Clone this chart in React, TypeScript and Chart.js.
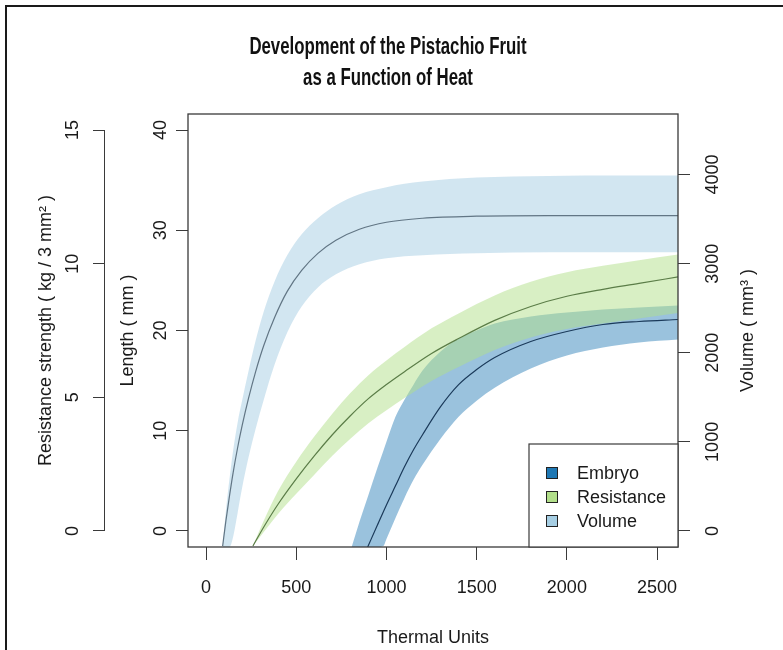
import React, { useEffect, useRef } from 'react';
import { Chart, registerables } from 'chart.js';

Chart.register(...registerables);

// ---------- text ----------
const TITLE = ['Development of the Pistachio Fruit', 'as a Function of Heat'];
const X_TITLE = 'Thermal Units';
const LENGTH_TITLE = 'Length ( mm )';
const RESIST_TITLE = 'Resistance strength ( kg / 3 mm\u00B2 )';
const VOLUME_TITLE = 'Volume ( mm\u00B3 )';

// ---------- axes ----------
const X_TICKS = [0, 500, 1000, 1500, 2000, 2500];
const LENGTH_TICKS = [0, 10, 20, 30, 40];
const RESIST_TICKS = [0, 5, 10, 15];
const VOLUME_TICKS = [0, 1000, 2000, 3000, 4000];

const X_RANGE = [-100, 2616];
const LENGTH_RANGE = [-1.6, 41.6];
const RESIST_RANGE = [-0.6, 15.6];
const VOLUME_RANGE = [-180, 4680];

// ---------- legend ----------
const LEGEND_LABELS = ['Embryo', 'Resistance', 'Volume'];
const LEGEND_COLORS = ['#1f78b4', '#b2df8a', '#a6cee3'];

// ---------- Volume (mm3, right axis) ----------
const VOL_X = [92, 110, 130, 150, 175, 200, 235, 275, 320, 380, 450, 530, 620, 720, 850, 1000, 1200, 1500, 1900, 2300, 2620];
const VOL_MEAN = [-170, 113, 394, 653, 934, 1181, 1485, 1789, 2081, 2396, 2689, 2925, 3116, 3263, 3386, 3465, 3510, 3533, 3540, 3540, 3540];
const VOL_UPPER = [-170, 225, 585, 900, 1215, 1463, 1789, 2138, 2464, 2801, 3094, 3330, 3510, 3656, 3780, 3859, 3921, 3966, 3985, 3990, 3990];
const VOL_LOWER = [-180, -180, -180, -68, 203, 484, 821, 1148, 1474, 1868, 2228, 2520, 2734, 2880, 2993, 3060, 3094, 3116, 3128, 3128, 3128];

// ---------- Resistance (kg / 3 mm2, far-left axis) ----------
const RES_X = [260, 320, 400, 500, 600, 700, 800, 900, 1000, 1100, 1250, 1400, 1600, 1800, 2000, 2200, 2400, 2620];
const RES_MEAN = [-0.56, 0.15, 1.01, 1.95, 2.81, 3.6, 4.31, 4.95, 5.48, 5.96, 6.64, 7.2, 7.88, 8.4, 8.78, 9.04, 9.26, 9.51];
const RES_UPPER = [-0.56, 0.38, 1.5, 2.59, 3.53, 4.39, 5.16, 5.83, 6.38, 6.88, 7.58, 8.14, 8.81, 9.32, 9.68, 9.92, 10.13, 10.35];
const RES_LOWER = [-0.56, -0.04, 0.64, 1.39, 2.1, 2.81, 3.45, 4.03, 4.52, 4.97, 5.61, 6.13, 6.77, 7.24, 7.56, 7.76, 7.95, 8.16];

// ---------- Embryo length (mm, left axis) ----------
const EMB_X = [896, 950, 1000, 1050, 1100, 1150, 1200, 1300, 1400, 1500, 1600, 1800, 2000, 2200, 2400, 2620];
const EMB_MEAN = [-1.6, 0.6, 2.6, 4.5, 6.4, 8.1, 9.6, 12.4, 14.6, 16.1, 17.3, 18.9, 19.9, 20.6, 20.9, 21.1];
const EMB_BAND_X = [807, 850, 900, 950, 983, 1000, 1050, 1100, 1150, 1200, 1300, 1400, 1500, 1600, 1800, 2000, 2200, 2400, 2620];
const EMB_UPPER = [-1.6, 0.9, 3.6, 6.3, 8.0, 8.9, 11.4, 13.1, 14.6, 16.0, 17.9, 19.2, 20.0, 20.7, 21.4, 21.8, 22.1, 22.3, 22.5];
const EMB_LOWER = [-1.6, -1.6, -1.6, -1.6, -1.5, -0.8, 1.3, 3.3, 5.1, 6.6, 9.2, 11.4, 13.0, 14.3, 16.2, 17.5, 18.3, 18.8, 19.1];

// ---------- styles ----------
const SANS = "'Liberation Sans', Arial, Helvetica, sans-serif";
const TEXT = '#1a1a1a';
const AXIS = '#3a3a3a';
const VOL_BAND = 'rgba(166,206,227,0.5)';
const RES_BAND = 'rgba(178,223,138,0.5)';
const EMB_BAND = 'rgba(31,120,180,0.45)';
const VOL_LINE = '#627685';
const RES_LINE = '#5b7d48';
const EMB_LINE = '#1b3a5a';

const pts = (xs: number[], ys: number[]) => xs.map((x, i) => ({ x, y: ys[i] }));
const tickFont = { family: SANS, size: 18 };

function line(label: string, xs: number[], ys: number[], axis: string, extra: any) {
  return {
    label,
    data: pts(xs, ys),
    yAxisID: axis,
    pointRadius: 0,
    pointHoverRadius: 0,
    cubicInterpolationMode: 'monotone',
    clip: 0,
    ...extra,
  };
}

const bandEdge = (color: string, order: number, fill: any) => ({
  borderColor: 'rgba(0,0,0,0)',
  borderWidth: 0,
  backgroundColor: color,
  fill,
  order,
});

const decorPlugin = {
  id: 'decor',
  afterDraw(chart: any) {
    const { ctx, chartArea: a, scales } = chart;
    ctx.save();

    // main title: bold, condensed
    ctx.fillStyle = '#111';
    ctx.font = `bold 24px ${SANS}`;
    ctx.textAlign = 'center';
    ctx.textBaseline = 'middle';
    TITLE.forEach((t, i) => {
      ctx.save();
      ctx.translate(388, 47 + i * 31);
      ctx.scale(0.7, 1);
      ctx.fillText(t, 0, 0);
      ctx.restore();
    });

    // plot box
    ctx.strokeStyle = AXIS;
    ctx.lineWidth = 1.3;
    ctx.strokeRect(a.left, a.top, a.right - a.left, a.bottom - a.top);

    // resistance axis spine (0 .. 15 only)
    const r = scales.yRes;
    const sx = r.right - 0.5;
    ctx.lineWidth = 1;
    ctx.beginPath();
    ctx.moveTo(sx, r.getPixelForValue(RESIST_TICKS[0]));
    ctx.lineTo(sx, r.getPixelForValue(RESIST_TICKS[RESIST_TICKS.length - 1]));
    ctx.stroke();

    // right axis title (reads bottom to top)
    ctx.save();
    ctx.translate(748, (a.top + a.bottom) / 2);
    ctx.rotate(-Math.PI / 2);
    ctx.fillStyle = TEXT;
    ctx.font = `18px ${SANS}`;
    ctx.textAlign = 'center';
    ctx.textBaseline = 'middle';
    ctx.fillText(VOLUME_TITLE, 0, 0);
    ctx.restore();

    // legend
    const w = 149, h = 103;
    const lx = a.right - w, ly = a.bottom - h;
    ctx.fillStyle = '#ffffff';
    ctx.fillRect(lx, ly, w, h);
    ctx.strokeStyle = AXIS;
    ctx.lineWidth = 1.2;
    ctx.strokeRect(lx, ly, w, h);
    ctx.font = `18px ${SANS}`;
    ctx.textAlign = 'left';
    ctx.textBaseline = 'middle';
    LEGEND_LABELS.forEach((lab, i) => {
      const cy = ly + 29 + i * 24;
      ctx.fillStyle = LEGEND_COLORS[i];
      ctx.fillRect(lx + 17, cy - 6, 12, 12);
      ctx.strokeStyle = '#222';
      ctx.lineWidth = 1;
      ctx.strokeRect(lx + 17.5, cy - 5.5, 11, 11);
      ctx.fillStyle = TEXT;
      ctx.fillText(lab, lx + 48, cy + 1);
    });
    ctx.restore();
  },
};

const tickSet = (arr: number[]) => (s: any) => {
  s.ticks = arr.map((v) => ({ value: v }));
};

export default function App() {
  const ref = useRef<HTMLCanvasElement>(null);

  useEffect(() => {
    const canvas = ref.current;
    if (!canvas) return;
    const chart = new Chart(canvas, {
      type: 'line',
      data: {
        datasets: [
          line('Volume upper', VOL_X, VOL_UPPER, 'yVol', bandEdge(VOL_BAND, 5, '+1')),
          line('Volume lower', VOL_X, VOL_LOWER, 'yVol', bandEdge(VOL_BAND, 5, false)),
          line('Embryo upper', EMB_BAND_X, EMB_UPPER, 'yLen', bandEdge(EMB_BAND, 4, '+1')),
          line('Embryo lower', EMB_BAND_X, EMB_LOWER, 'yLen', bandEdge(EMB_BAND, 4, false)),
          line('Resistance upper', RES_X, RES_UPPER, 'yRes', bandEdge(RES_BAND, 3, '+1')),
          line('Resistance lower', RES_X, RES_LOWER, 'yRes', bandEdge(RES_BAND, 3, false)),
          line('Volume', VOL_X, VOL_MEAN, 'yVol', { borderColor: VOL_LINE, borderWidth: 1.2, fill: false, order: 0 }),
          line('Resistance', RES_X, RES_MEAN, 'yRes', { borderColor: RES_LINE, borderWidth: 1.2, fill: false, order: 0 }),
          line('Embryo', EMB_X, EMB_MEAN, 'yLen', { borderColor: EMB_LINE, borderWidth: 1.2, fill: false, order: 0 }),
        ],
      },
      options: {
        responsive: false,
        animation: false,
        devicePixelRatio: 1,
        events: [],
        layout: { padding: { top: 114, left: 0, right: 0, bottom: 0 } },
        plugins: {
          legend: { display: false },
          tooltip: { enabled: false },
          title: { display: false },
        },
        scales: {
          x: {
            type: 'linear',
            position: 'bottom',
            min: X_RANGE[0],
            max: X_RANGE[1],
            afterBuildTicks: tickSet(X_TICKS),
            afterFit: (s: any) => { s.height = 103; },
            grid: { drawOnChartArea: false, drawTicks: true, tickLength: 13, color: AXIS, lineWidth: 1 },
            border: { display: false },
            ticks: { padding: 17, color: TEXT, font: tickFont, autoSkip: false, maxRotation: 0, callback: (v: any) => String(v) },
            title: { display: true, text: X_TITLE, color: TEXT, font: tickFont, padding: { top: 0, bottom: 1 } },
          },
          yLen: {
            type: 'linear',
            position: 'left',
            weight: 0,
            min: LENGTH_RANGE[0],
            max: LENGTH_RANGE[1],
            afterBuildTicks: tickSet(LENGTH_TICKS),
            afterFit: (s: any) => { s.width = 83; },
            grid: { drawOnChartArea: false, drawTicks: true, tickLength: 12, color: AXIS, lineWidth: 1 },
            border: { display: false },
            ticks: { padding: 5, color: TEXT, font: tickFont, autoSkip: false, minRotation: 90, maxRotation: 90, crossAlign: 'center', callback: (v: any) => String(v) },
            title: { display: true, text: LENGTH_TITLE, color: TEXT, font: tickFont, padding: { top: 12, bottom: 0 } },
          },
          yRes: {
            type: 'linear',
            position: 'left',
            weight: 1,
            min: RESIST_RANGE[0],
            max: RESIST_RANGE[1],
            afterBuildTicks: tickSet(RESIST_TICKS),
            afterFit: (s: any) => { s.width = 105; },
            grid: { drawOnChartArea: false, drawTicks: true, tickLength: 12, color: AXIS, lineWidth: 1 },
            border: { display: false },
            ticks: { padding: 10, color: TEXT, font: tickFont, autoSkip: false, minRotation: 90, maxRotation: 90, crossAlign: 'center', callback: (v: any) => String(v) },
            title: { display: true, text: RESIST_TITLE, color: TEXT, font: tickFont, padding: { top: 35, bottom: 0 } },
          },
          yVol: {
            type: 'linear',
            position: 'right',
            min: VOLUME_RANGE[0],
            max: VOLUME_RANGE[1],
            afterBuildTicks: tickSet(VOLUME_TICKS),
            afterFit: (s: any) => { s.width = 105; },
            grid: { drawOnChartArea: false, drawTicks: true, tickLength: 12, color: AXIS, lineWidth: 1 },
            border: { display: false },
            ticks: { padding: 3, color: TEXT, font: tickFont, autoSkip: false, minRotation: 90, maxRotation: 90, crossAlign: 'center', callback: (v: any) => String(v) },
            title: { display: false },
          },
        },
      } as any,
      plugins: [decorPlugin],
    } as any);
    return () => chart.destroy();
  }, []);

  return (
    <div style={{ position: 'fixed', left: 0, top: 0, width: 783, height: 650, overflow: 'hidden', background: '#ffffff' }}>
      <canvas ref={ref} width={783} height={650} style={{ position: 'absolute', left: 0, top: 0, width: 783, height: 650 }} />
      <div style={{ position: 'absolute', left: 5, top: 5, width: 900, height: 900, border: '2px solid #1a1a1a', boxSizing: 'border-box', pointerEvents: 'none' }} />
    </div>
  );
}
